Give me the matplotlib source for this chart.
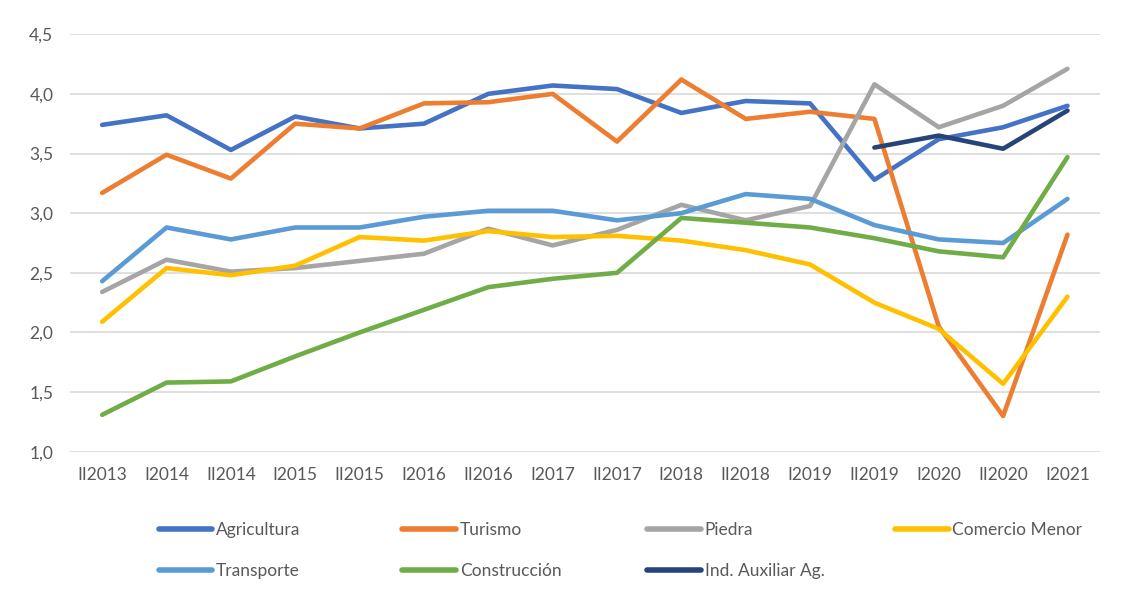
import numpy as np
import matplotlib
matplotlib.use("Agg")
import matplotlib.pyplot as plt

plt.rcParams['font.family'] = ['Lato', 'DejaVu Sans']

periodos = ['II2013', 'I2014', 'II2014', 'I2015', 'II2015', 'I2016', 'II2016', 'I2017',
            'II2017', 'I2018', 'II2018', 'I2019', 'II2019', 'I2020', 'II2020', 'I2021']

agricultura = [3.74, 3.82, 3.53, 3.81, 3.71, 3.75, 4.00, 4.07, 4.04, 3.84, 3.94, 3.92, 3.28, 3.62, 3.72, 3.90]
turismo = [3.17, 3.49, 3.29, 3.75, 3.71, 3.92, 3.93, 4.00, 3.60, 4.12, 3.79, 3.85, 3.79, 2.05, 1.30, 2.82]
piedra = [2.34, 2.61, 2.51, 2.54, 2.60, 2.66, 2.87, 2.73, 2.86, 3.07, 2.94, 3.06, 4.08, 3.72, 3.90, 4.21]
comercio = [2.09, 2.54, 2.48, 2.56, 2.80, 2.77, 2.85, 2.80, 2.81, 2.77, 2.69, 2.57, 2.25, 2.03, 1.57, 2.30]
transporte = [2.43, 2.88, 2.78, 2.88, 2.88, 2.97, 3.02, 3.02, 2.94, 3.00, 3.16, 3.12, 2.90, 2.78, 2.75, 3.12]
construccion = [1.31, 1.58, 1.59, 1.80, 2.00, 2.19, 2.38, 2.45, 2.50, 2.96, 2.92, 2.88, 2.79, 2.68, 2.63, 3.47]
nan = np.nan
ind_auxiliar = [nan, nan, nan, nan, nan, nan, nan, nan, nan, nan, nan, nan, 3.55, 3.65, 3.54, 3.86]

series = [
    ('Agricultura', agricultura, '#4472C4'),
    ('Turismo', turismo, '#ED7D31'),
    ('Piedra', piedra, '#A5A5A5'),
    ('Comercio Menor', comercio, '#FFC000'),
    ('Transporte', transporte, '#5B9BD5'),
    ('Construcción', construccion, '#70AD47'),
    ('Ind. Auxiliar Ag.', ind_auxiliar, '#264478'),
]

fig = plt.figure(figsize=(11.29, 6), dpi=100)
ax = fig.add_axes([0.062, 0.247, 0.912, 0.696])

x = np.arange(len(periodos))
handles = {}
for nombre, valores, color in series:
    h, = ax.plot(x, valores, color=color, linewidth=3.3, solid_capstyle='round',
                 solid_joinstyle='round', label=nombre)
    handles[nombre] = h

ax.set_xlim(-0.5, len(periodos) - 0.5)
ax.set_ylim(1.0, 4.5)
ax.set_yticks(np.arange(1.0, 4.51, 0.5))
ax.set_yticklabels([f'{v:.1f}'.replace('.', ',') for v in np.arange(1.0, 4.51, 0.5)])
ax.set_xticks(x)
ax.set_xticklabels(periodos)
ax.grid(axis='y', color='#D9D9D9', linewidth=1.2)
ax.set_axisbelow(True)
for s in ax.spines.values():
    s.set_visible(False)
ax.tick_params(length=0, labelsize=12.5, labelcolor='#595959', pad=11)
ax.tick_params(axis='y', pad=12)

# leyenda en cuadricula: una columna por leyenda, columnas a igual distancia
columnas = [['Agricultura', 'Transporte'], ['Turismo', 'Construcción'],
            ['Piedra', 'Ind. Auxiliar Ag.'], ['Comercio Menor']]
x_cols = [0.1405, 0.3565, 0.5735, 0.7925]
for nombres, xc in zip(columnas, x_cols):
    leg = fig.legend([handles[n] for n in nombres], nombres, loc='upper left',
                     bbox_to_anchor=(xc, 0.130), frameon=False, fontsize=12.5,
                     handlelength=3.1, handletextpad=0.2, labelspacing=1.45,
                     borderpad=0, borderaxespad=0)
    for t in leg.get_texts():
        t.set_color('#595959')
    for ln in leg.get_lines():
        ln.set_linewidth(4)

fig.savefig('out.png', dpi=100)
